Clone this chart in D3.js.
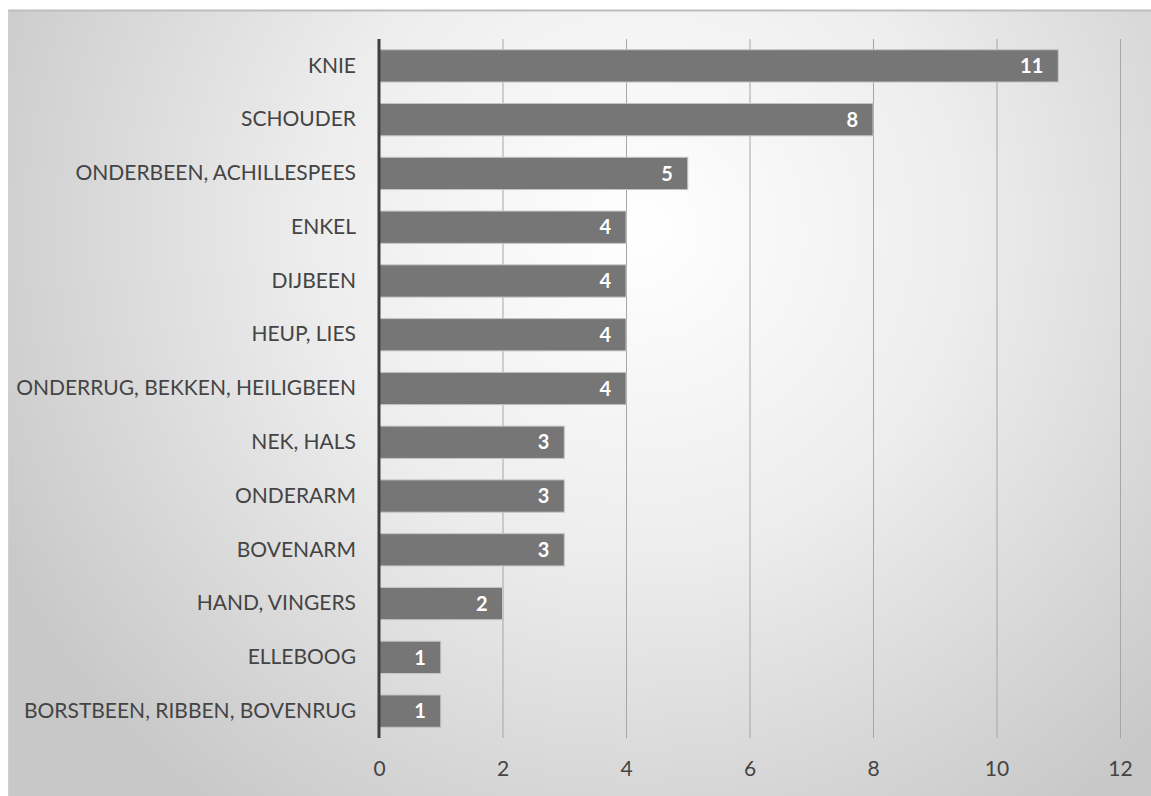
<!DOCTYPE html>
<html>
<head>
<meta charset="utf-8">
<script src="https://cdn.jsdelivr.net/npm/d3@7"></script>
<style>
  body { margin: 0; background: #fff; }
  svg { display: block; }
</style>
</head>
<body>
<script>
// data
var categories = ["KNIE", "SCHOUDER", "ONDERBEEN, ACHILLESPEES", "ENKEL", "DIJBEEN", "HEUP, LIES",
                  "ONDERRUG, BEKKEN, HEILIGBEEN", "NEK, HALS", "ONDERARM", "BOVENARM",
                  "HAND, VINGERS", "ELLEBOOG", "BORSTBEEN, RIBBEN, BOVENRUG"];
var values = [11, 8, 5, 4, 4, 4, 4, 3, 3, 3, 2, 1, 1];
var tickValues = [0, 2, 4, 6, 8, 10, 12];

var W = 1151, H = 796;
var FONT = "Lato, 'Open Sans', sans-serif";
var v_Canvas = d3.select("body").append("svg").attr("width", W).attr("height", H);

// background panel with radial glow
var defs = v_Canvas.append("defs");
var grad = defs.append("radialGradient").attr("id", "bg")
    .attr("gradientUnits", "userSpaceOnUse")
    .attr("cx", 640).attr("cy", 230).attr("r", 720);
grad.append("stop").attr("offset", "0%").attr("stop-color", "#ffffff");
grad.append("stop").attr("offset", "45%").attr("stop-color", "#ededed");
grad.append("stop").attr("offset", "100%").attr("stop-color", "#c8c8c8");

v_Canvas.append("rect").attr("x", 8).attr("y", 10).attr("width", W - 8).attr("height", H - 10)
    .attr("fill", "url(#bg)");
v_Canvas.append("line").attr("x1", 8).attr("x2", W).attr("y1", 10.5).attr("y2", 10.5)
    .attr("stroke", "#bdbdbd").attr("stroke-width", 2);
v_Canvas.append("line").attr("x1", 8.5).attr("x2", 8.5).attr("y1", 10).attr("y2", H)
    .attr("stroke", "#cfcfcf").attr("stroke-width", 1);

var x = d3.scaleLinear().domain([0, 12]).range([379, 1120]);
var y = d3.scaleBand().domain(categories).range([39, 738]).paddingInner(0.4).paddingOuter(0.2);

// gridlines
v_Canvas.append("g").selectAll("line").data(tickValues.slice(1)).enter().append("line")
    .attr("x1", function(d){ return x(d) + 0.5; })
    .attr("x2", function(d){ return x(d) + 0.5; })
    .attr("y1", 39).attr("y2", 738)
    .attr("stroke", "#a6a6a6").attr("stroke-width", 1);

// bars
v_Canvas.append("g").selectAll("rect").data(values).enter().append("rect")
    .attr("x", x(0))
    .attr("y", function(d, i){ return y(categories[i]); })
    .attr("width", function(d){ return x(d) - x(0); })
    .attr("height", y.bandwidth())
    .attr("fill", "#767676")
    .attr("stroke", "#c4c4c4").attr("stroke-width", 1);

// value labels
v_Canvas.append("g").selectAll("text").data(values).enter().append("text")
    .attr("x", function(d){ return x(d) - 15; })
    .attr("y", function(d, i){ return y(categories[i]) + y.bandwidth() / 2; })
    .attr("dy", "0.36em")
    .attr("text-anchor", "end")
    .attr("fill", "#ffffff")
    .attr("font-family", FONT)
    .attr("font-weight", "bold")
    .attr("font-size", 20)
    .text(function(d){ return d; });

// category axis
var yAxis = v_Canvas.append("g").attr("transform", "translate(379,0)")
    .call(d3.axisLeft(y).tickSize(0).tickPadding(23));
yAxis.select(".domain").remove();
yAxis.selectAll("text")
    .attr("fill", "#444444")
    .attr("font-family", FONT)
    .attr("font-size", 21);

v_Canvas.append("line").attr("x1", 379).attr("x2", 379).attr("y1", 39).attr("y2", 738)
    .attr("stroke", "#404040").attr("stroke-width", 3);

// value axis
var xAxis = v_Canvas.append("g").attr("transform", "translate(0,758)")
    .call(d3.axisBottom(x).tickValues(tickValues).tickSize(0).tickPadding(3));
xAxis.select(".domain").remove();
xAxis.selectAll("text")
    .attr("fill", "#444444")
    .attr("font-family", FONT)
    .attr("font-size", 21);
</script>
</body>
</html>
